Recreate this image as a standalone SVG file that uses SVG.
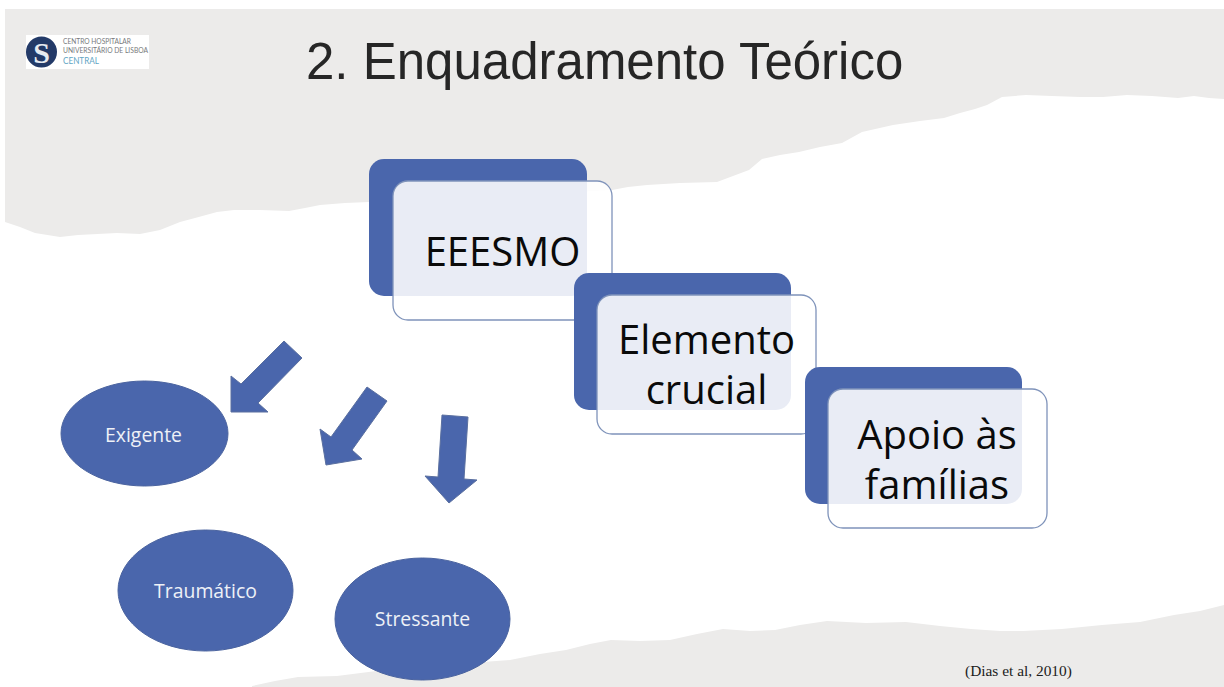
<svg xmlns="http://www.w3.org/2000/svg" width="1224" height="687" viewBox="0 0 1224 687">
<style>
.paper{fill:#ecebea}
.back{fill:#4a66ac}
.front{fill:#fff;fill-opacity:.88;stroke:#7f93ba;stroke-width:1.3}
.big{font-family:"Open Sans","Liberation Sans",sans-serif;font-size:40px;fill:#0a0a0a;text-anchor:middle}
.oval{fill:#4a66ac;stroke:#4a639f;stroke-width:1}
.small{font-family:"Open Sans","Liberation Sans",sans-serif;font-size:19.4px;fill:#eef1f7;text-anchor:middle}
.arrow{fill:#4a66ac;stroke:#5a6f9f;stroke-width:1}
.logo{font-family:"Lato","Liberation Sans",sans-serif;font-size:7px;fill:#77797c}
</style>
<rect width="1224" height="687" fill="#fff"/>
<g id="background">
<path class="paper" d="M5 9H1224V99L1209 98L1194 96L1178 98L1152 96L1127 95L1103 97L1080 97L1052 96L1026 95L1002 97L987 105L975 109L960 113L944 118L920 121L893 125L862 132L842 143L820 147L799 152L780 155L762 159L749 170L733 176L717 182L680 183L647 185L628 187L612 190L560 193L480 197L420 200L369 202L345 203L320 205L305 208L289 211L260 210L234 210L217 212L195 218L180 222L160 230L140 234L117 233L78 235L60 237L35 233L20 227L5 222Z"/>
<path class="paper" d="M252 686L275 681L298 677L337 676L400 668L510 660L540 654L566 650L590 644L611 640L640 641L670 640L697 634L723 629L750 631L775 630L800 625L827 621L866 623L906 622L940 626L971 629L1000 631L1023 631L1062 629L1102 625L1140 622L1174 615L1200 611L1224 605V687H252Z"/>
</g>
<g id="logo">
<rect x="26" y="35" width="123" height="34" fill="#fff"/>
<circle cx="41.500" cy="52" r="15.500" fill="#233a68"/>
<text x="41.500" y="62.500" font-family="Liberation Serif,serif" font-weight="700" font-size="30" fill="#e6eaf0" text-anchor="middle">S</text>
<text class="logo" x="63" y="43.500" textLength="68" lengthAdjust="spacingAndGlyphs">CENTRO HOSPITALAR</text>
<text class="logo" x="63" y="52.500" textLength="85" lengthAdjust="spacingAndGlyphs">UNIVERSITÁRIO DE LISBOA</text>
<text class="logo" x="63" y="64" textLength="36" lengthAdjust="spacingAndGlyphs" style="font-size:8.500px;fill:#62a5c4">CENTRAL</text>
</g>
<text id="title" x="306" y="79" font-family="Liberation Sans,Arial,sans-serif" font-size="51" fill="#262626">2. Enquadramento Teórico</text>
<g id="connectors">
<path class="arrow" d="M284 341L302 358L258 403L268 412H231V376L241 384Z"/>
<path class="arrow" d="M367 387L387 401L352 450L362 459L326 465L320 429L331 437Z"/>
<path class="arrow" d="M442 415L468 417L464 479L477 480L449 503L425 476L438 477Z"/>
</g>
<g id="node-eeesmo">
<rect class="back" x="369" y="159" width="218" height="137" rx="15"/>
<rect class="front" x="393" y="181" width="219" height="139" rx="15"/>
<text class="big" x="502.500" y="266">EEESMO</text>
</g>
<g id="node-elemento">
<rect class="back" x="574" y="273" width="217" height="137" rx="15"/>
<rect class="front" x="597" y="295" width="219" height="139" rx="15"/>
<text class="big" x="706.500" y="354">Elemento</text>
<text class="big" x="706.500" y="404">crucial</text>
</g>
<g id="node-apoio">
<rect class="back" x="805" y="367" width="217" height="137" rx="15"/>
<rect class="front" x="828" y="389" width="219" height="139" rx="15"/>
<text class="big" x="937" y="449">Apoio às</text>
<text class="big" x="937" y="499">famílias</text>
</g>
<g id="node-exigente">
<ellipse class="oval" cx="144.500" cy="433.500" rx="83.500" ry="52.500"/>
<text class="small" x="143.500" y="442">Exigente</text>
</g>
<g id="node-traumatico">
<ellipse class="oval" cx="205.500" cy="590.500" rx="87.500" ry="60.500"/>
<text class="small" x="205.500" y="598">Traumático</text>
</g>
<g id="node-stressante">
<ellipse class="oval" cx="422.500" cy="619" rx="87.500" ry="61"/>
<text class="small" x="422.500" y="626">Stressante</text>
</g>
<text id="citation" x="965" y="676" font-family="Liberation Serif,Times New Roman,serif" font-size="15.400" fill="#1c1c1c">(Dias et al, 2010)</text>
</svg>
